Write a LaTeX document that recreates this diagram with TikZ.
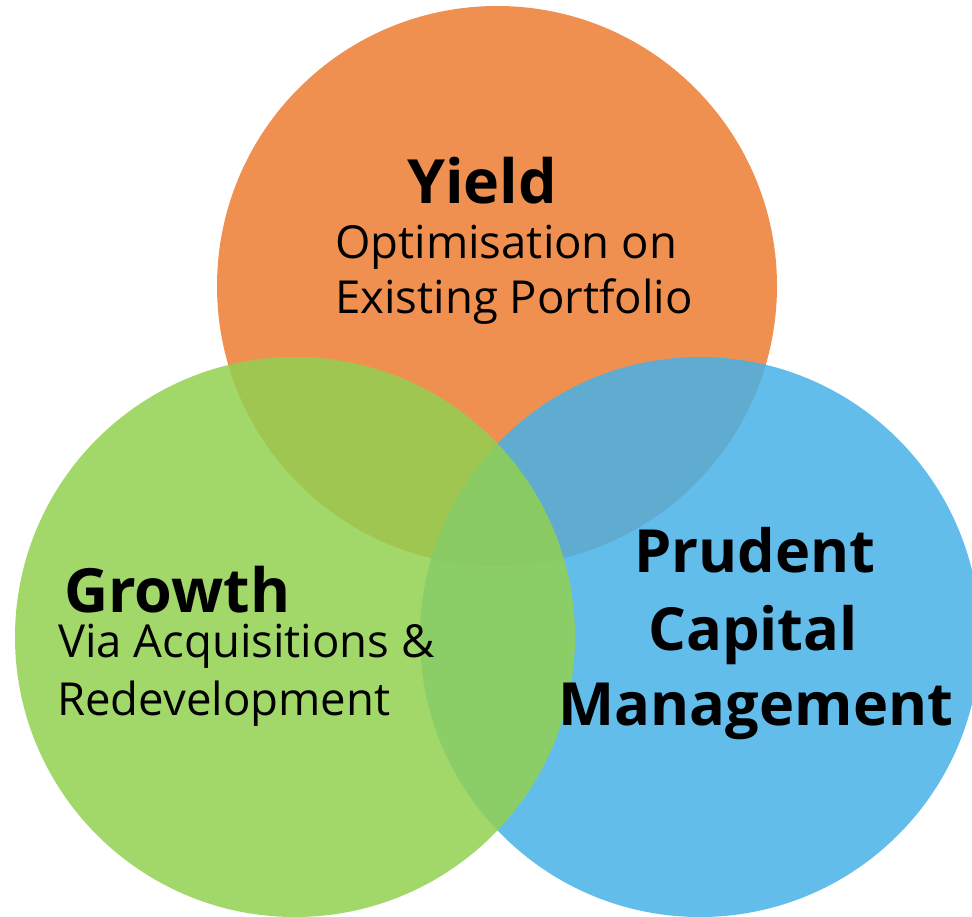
\documentclass[tikz,border=0pt]{standalone}
\usepackage{fontspec}
\setmainfont{Open Sans}
\definecolor{yieldc}{RGB}{237,125,49}
\definecolor{growthc}{RGB}{146,208,80}
\definecolor{capc}{RGB}{71,177,231}
\tikzset{
  venn/.style={fill opacity=0.85, draw=none},
  headb/.style={font=\fontsize{61}{70}\selectfont\bfseries, inner sep=0pt, text=black},
  headc/.style={font=\fontsize{59.5}{70}\selectfont\bfseries, inner sep=0pt, text=black},
  body/.style={font=\fontsize{45.5}{54}\selectfont, inner sep=0pt, text=black}
}
\begin{document}
\begin{tikzpicture}[x=1pt,y=-1pt]
\useasboundingbox (0,0) rectangle (972,916);
\clip (0,0) rectangle (972,916);
\fill[venn, yieldc] (497,286) circle[radius=280];
\fill[venn, capc] (700,637) circle[radius=280];
\fill[venn, growthc] (295,637) circle[radius=280];
% Yield
\node[headb, anchor=base west] (yield) at (407,203) {Yield};
\node[body, anchor=base west] (y1) at (335,258) {Optimisation on};
\node[body, anchor=base west] (y2) at (335,313) {Existing Portfolio};
% Growth
\node[headb, anchor=base west] (growth) at (64,612) {Growth};
\node[body, anchor=base west] (g1) at (58,657) {Via Acquisitions \&};
\node[body, anchor=base west] (g2) at (57,715) {Redevelopment};
% Prudent
\node[headc, anchor=base] (p1) at (755,572) {Prudent};
\node[headc, anchor=base] (p2) at (753,650) {Capital};
\node[headc, anchor=base] (p3) at (756,725) {Management};
\end{tikzpicture}
\end{document}
